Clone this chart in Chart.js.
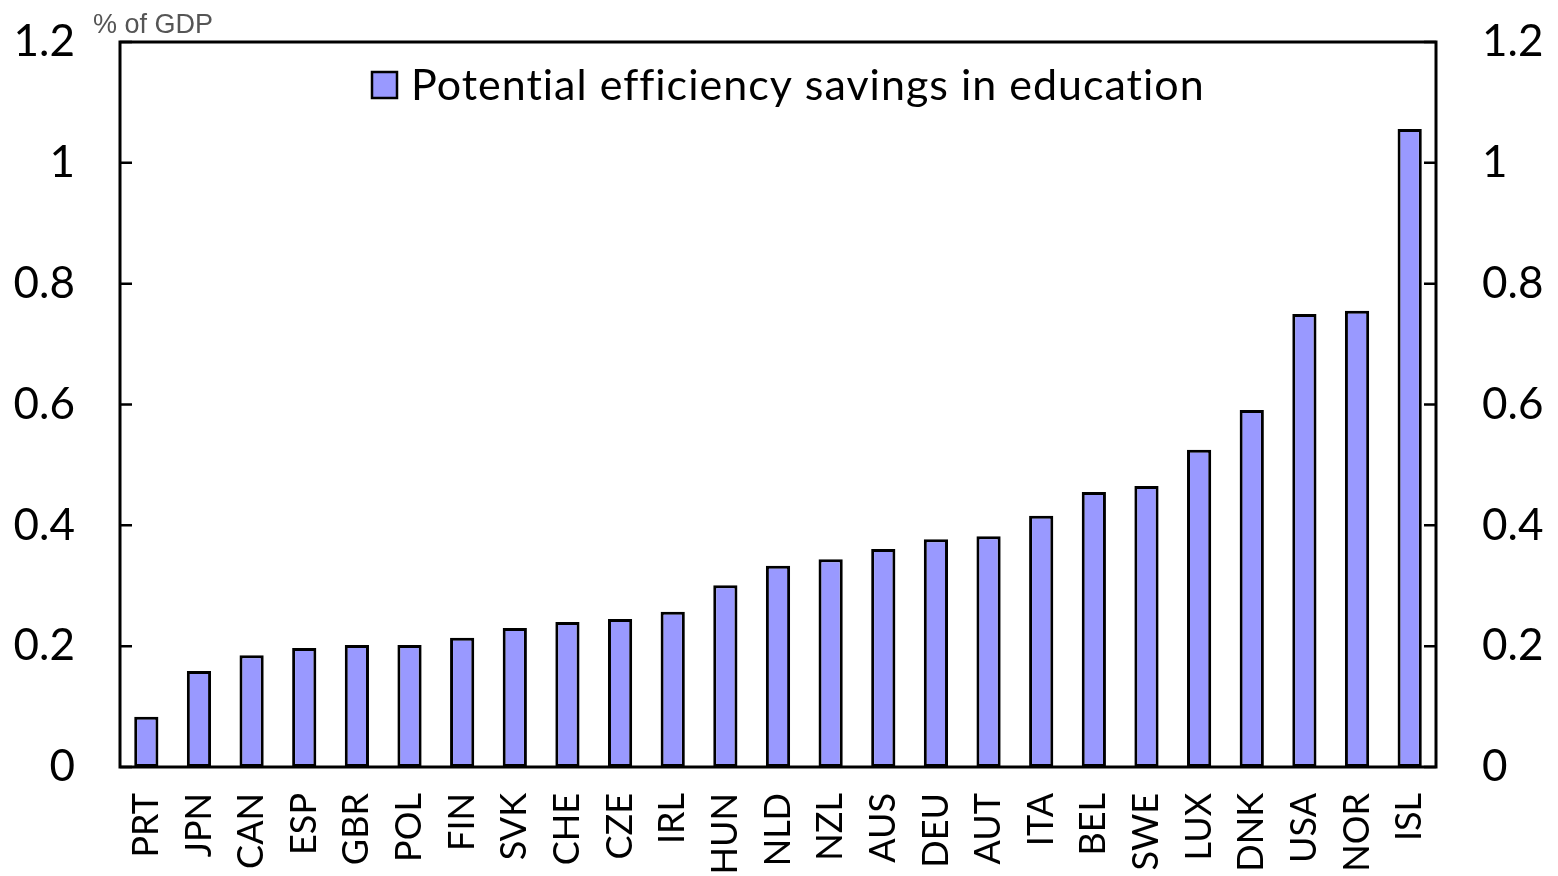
<!DOCTYPE html>
<html>
<head>
<meta charset="utf-8">
<script src="https://cdn.jsdelivr.net/npm/chart.js@4"></script>
<style>
  html, body { margin: 0; padding: 0; background: #fff; }
  #wrap { width: 1558px; height: 876px; }
</style>
</head>
<body>
<div id="wrap"><canvas id="chart"></canvas></div>
<script>
const countries = ['PRT','JPN','CAN','ESP','GBR','POL','FIN','SVK','CHE','CZE','IRL','HUN','NLD','NZL','AUS','DEU','AUT','ITA','BEL','SWE','LUX','DNK','USA','NOR','ISL'];
const savings = [0.083,0.159,0.185,0.197,0.202,0.202,0.214,0.230,0.240,0.245,0.257,0.301,0.333,0.344,0.361,0.377,0.382,0.416,0.455,0.465,0.525,0.591,0.750,0.755,1.056];
const yTicks = [0, 0.2, 0.4, 0.6, 0.8, 1, 1.2];
const seriesName = 'Potential efficiency savings in education';
const unitLabel = '% of GDP';

// frame, inward tick marks, legend and unit label
const decorations = {
  id: 'decorations',
  afterDraw(chart) {
    const ctx = chart.ctx;
    const a = chart.chartArea;
    const y = chart.scales.y;
    ctx.save();
    ctx.strokeStyle = '#000';
    ctx.lineWidth = 3;
    ctx.strokeRect(a.left, a.top, a.right - a.left, a.bottom - a.top);
    ctx.lineWidth = 2.5;
    yTicks.forEach(v => {
      const py = y.getPixelForValue(v);
      ctx.beginPath();
      ctx.moveTo(a.left, py); ctx.lineTo(a.left + 12, py);
      ctx.moveTo(a.right, py); ctx.lineTo(a.right - 12, py);
      ctx.stroke();
    });
    // legend
    ctx.fillStyle = '#9999ff';
    ctx.fillRect(372, 72, 25, 26);
    ctx.strokeStyle = '#000';
    ctx.lineWidth = 2.5;
    ctx.strokeRect(372, 72, 25, 26);
    ctx.fillStyle = '#000';
    ctx.font = '43px Lato';
    ctx.letterSpacing = '1px';
    ctx.textBaseline = 'alphabetic';
    ctx.textAlign = 'left';
    ctx.fillText(seriesName, 411, 100);
    ctx.letterSpacing = '0px';
    // unit
    ctx.fillStyle = '#555';
    ctx.font = '27px "Liberation Sans"';
    ctx.fillText(unitLabel, 93, 33);
    ctx.restore();
  }
};

const tickFmt = v => String(+Number(v).toFixed(1));
const fixY = w => s => { s.width = w; s.paddingTop = 0; s.paddingBottom = 0; };

new Chart(document.getElementById('chart'), {
  type: 'bar',
  data: {
    labels: countries,
    datasets: [{
      label: seriesName,
      data: savings,
      backgroundColor: '#9999ff',
      borderColor: '#000',
      borderWidth: 3,
      borderSkipped: false,
      categoryPercentage: 1,
      barPercentage: 0.46
    }]
  },
  options: {
    responsive: true,
    maintainAspectRatio: false,
    animation: false,
    layout: { padding: { top: 42, left: 0, right: 0, bottom: 0 } },
    plugins: { legend: { display: false }, tooltip: { enabled: false } },
    scales: {
      x: {
        grid: { display: false, drawTicks: false },
        border: { display: false },
        ticks: {
          color: '#000', font: { family: 'Lato', size: 36 },
          minRotation: 90, maxRotation: 90, padding: 26, autoSkip: false
        },
        afterFit(s) { s.height = 109; s.paddingLeft = 0; s.paddingRight = 0; }
      },
      y: {
        position: 'left',
        min: 0, max: 1.2,
        grid: { display: false, drawTicks: false },
        border: { display: false },
        afterBuildTicks(s) { s.ticks = yTicks.map(v => ({ value: v })); },
        ticks: { color: '#000', font: { family: 'Lato', size: 44 }, padding: 45, callback: tickFmt },
        afterFit: fixY(120)
      },
      y2: {
        position: 'right',
        min: 0, max: 1.2,
        grid: { display: false, drawTicks: false },
        border: { display: false },
        afterBuildTicks(s) { s.ticks = yTicks.map(v => ({ value: v })); },
        ticks: { color: '#000', font: { family: 'Lato', size: 44 }, padding: 46, callback: tickFmt },
        afterFit: fixY(122)
      }
    }
  },
  plugins: [decorations]
});
</script>
</body>
</html>
